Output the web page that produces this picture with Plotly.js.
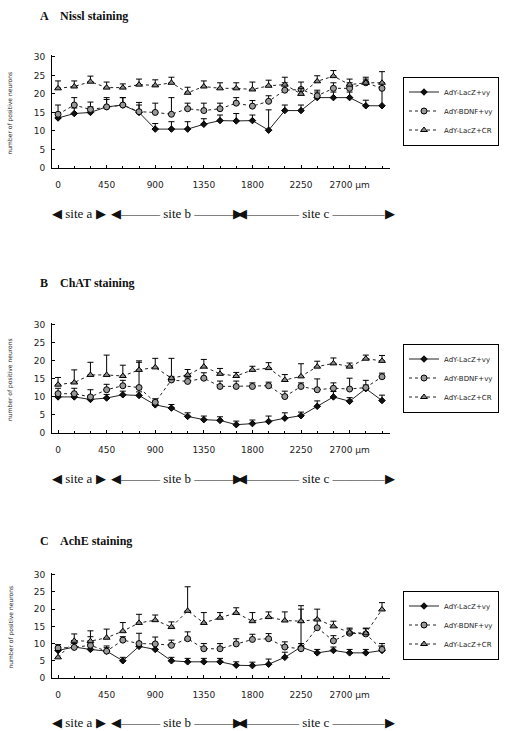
<!DOCTYPE html>
<html>
<head>
<meta charset="utf-8">
<script src="https://cdn.plot.ly/plotly-3.0.1.min.js"></script>
<style>html,body{margin:0;padding:0;background:#fff;}#chart{width:515px;height:731px;}</style>
</head>
<body>
<div id="chart"></div>
<script>
// distance along the lesion, µm
const distances = [0,150,300,450,600,750,900,1050,1200,1350,1500,1650,1800,1950,2100,2250,2400,2550,2700,2850,3000];
const xTickVals = [0,450,900,1350,1800,2250,2700];
const xTickText = ["0","450","900","1350","1800","2250","2700 µm"];
const yTickVals = [0,5,10,15,20,25,30];
const seriesNames = ["AdY-LacZ+vy","AdY-BDNF+vy","AdY-LacZ+CR"];
const panelTitles = ["A    Nissl staining","B    ChAT staining","C    AchE staining"];

// Panel A: Nissl staining
const nisslLacZvy   = [13.5,14.7,15,16.5,17,15,10.5,10.5,10.5,11.8,12.8,12.7,12.8,10.2,15.5,15.5,19,19,19,16.8,16.8];
const nisslBDNFvy   = [14.5,17,15.8,16.5,17,15.2,15,14.5,16,15.5,16,17.5,16.7,18,21,21.2,19.5,21.5,21.5,23,21.5];
const nisslLacZCR   = [21.5,22,23.3,21.7,21.7,22.5,22.3,23,20.3,22,21.5,21.5,21.2,22.2,22.5,20,23.4,24.8,22.5,23,23];
const nisslErrLacZvy = [1.5,1.5,1.5,2,2,2,1.5,2,2,1.5,1.5,2,1.5,5.5,1.5,1.5,1.5,1.5,1.5,1.5,5];
const nisslErrBDNFvy = [2.5,2,2,2.5,2,2.5,2.5,4.5,1.5,2,1.5,1.5,1.5,1.5,2,2,1.5,1.5,1.5,1.5,1.5];
const nisslErrLacZCR = [2,1.5,1.5,1.5,1,1.5,1.5,1.5,1.5,1.5,1.5,1.5,2,1.5,2,1.5,1.5,1.5,1.5,1,3];

// Panel B: ChAT staining
const chatLacZvy   = [10,10,9.3,9.7,10.6,10.4,7.8,6.9,4.6,3.7,3.5,2.3,2.6,3.2,4.1,4.8,7.4,10,8.8,12.3,9];
const chatBDNFvy   = [10.9,10.9,10,12,13.1,12.6,8.5,14.7,14.3,15.2,12.9,12.9,12.9,13.1,10.1,12.9,12,12.4,12.2,12.6,15.6];
const chatLacZCR   = [13.4,14,16.1,16.1,15.8,17.5,18.2,15.2,16.1,18.4,16.4,15.8,17.5,18,14.7,15.7,18.4,19.3,18.4,20.6,20];
const chatErrLacZvy = [1,1,1,1,1,1,1,1,1,1,1,1,1,1.5,1.5,1,1.5,1.5,1,1,1.5];
const chatErrBDNFvy = [1.5,1.5,2,1.5,1.5,7,1,1,1,1.5,1.5,1.5,1,1,1.5,1,3,1.5,3,2,1];
const chatErrLacZCR = [2,3.5,3.5,5.5,3,2.5,2.5,5.5,1.5,2,1.5,1,1,1.5,1.5,3.5,1.5,1.5,1,1,1.5];

// Panel C: AchE staining
const acheLacZvy   = [8,9,8.3,7.8,5,9.2,8.3,5,4.7,4.7,4.7,3.7,3.6,4,6,9,7.3,8,7.3,7.3,8];
const acheBDNFvy   = [8.7,8.9,9.5,7.8,11,10,9.9,9.5,11.4,8.5,8.5,9.9,11.2,11.4,9,8.5,14.6,10.8,13,12.8,8.3];
const acheLacZCR   = [6,10.8,10.7,11.7,13.6,16,16.8,14.8,19.5,16,17.5,18.9,16.5,17.7,16.7,16.5,17,15,13.2,13,19.9];
const acheErrLacZvy = [1,1,1,1,1,1,1.5,1,1,1,1,1,1,1.5,1.5,11,1,1,1,1,2];
const acheErrBDNFvy = [1,2,2.5,1.5,1,3,2,1.5,2,1.5,1.5,1.5,1.5,1.5,1.5,1.5,2.5,1.5,1.5,1.5,1];
const acheErrLacZCR = [2,2,3,2.5,2.5,2.5,1.5,1.5,7,3,1.5,1.5,2.5,1.5,2.5,4.5,3,1.5,1,1.5,2];

const panels = [
  {vals:[nisslLacZvy,nisslBDNFvy,nisslLacZCR], errs:[nisslErrLacZvy,nisslErrBDNFvy,nisslErrLacZCR]},
  {vals:[chatLacZvy,chatBDNFvy,chatLacZCR], errs:[chatErrLacZvy,chatErrBDNFvy,chatErrLacZCR]},
  {vals:[acheLacZvy,acheBDNFvy,acheLacZCR], errs:[acheErrLacZvy,acheErrBDNFvy,acheErrLacZCR]}
];

const H = 731, W = 515;
const py = v => 1 - v / H;
const px = v => v / W;
// pixel geometry of each panel: [top, bottom] of plot area, title y, site-label y, legend centre
const geo = [
  {top:55, bot:168, title:16, site:213, leg:111},
  {top:323, bot:433, title:283, site:478, leg:378},
  {top:573, bot:678, title:541, site:722, leg:625}
];
const markerStyles = [
  {symbol:'diamond', size:5, color:'#111', line:{color:'#000', width:1}},
  {symbol:'circle', size:6, color:'#999', line:{color:'#000', width:1}},
  {symbol:'triangle-up', size:6, color:'#888', line:{color:'#000', width:1}}
];
const lineStyles = [
  {color:'#222', width:1, dash:'solid'},
  {color:'#222', width:1, dash:'dot'},
  {color:'#222', width:1, dash:'dot'}
];

const traces = [];
const layout = {
  width: W, height: H,
  margin:{l:0,r:0,t:0,b:0},
  paper_bgcolor:'#fff', plot_bgcolor:'#fff',
  showlegend:true,
  annotations:[], shapes:[]
};
const tickFont = {family:'DejaVu Sans', size:9, color:'#222'};

panels.forEach((p, k) => {
  const n = k === 0 ? '' : String(k + 1);
  const g = geo[k];
  const legName = k === 0 ? 'legend' : 'legend' + (k + 1);
  for (let s = 0; s < 3; s++) {
    traces.push({
      type:'scatter', mode:'lines+markers',
      x: distances, y: p.vals[s],
      xaxis:'x' + n, yaxis:'y' + n,
      name: seriesNames[s], legend: legName,
      line: lineStyles[s], marker: markerStyles[s],
      error_y:{type:'data', symmetric:false, array:p.errs[s], arrayminus:p.vals[s].map(()=>0), color:'#000', thickness:1, width:3}
    });
  }
  layout['xaxis' + n] = {
    domain:[px(52), px(390)], anchor:'y' + n, range:[-56, 3074],
    tickvals:xTickVals, ticktext:xTickText, ticks:'inside', ticklen:3, tickcolor:'#000',
    minor:{dtick:150, tick0:0, ticks:'inside', ticklen:2, tickcolor:'#000'},
    showline:true, linecolor:'#000', linewidth:1, showgrid:false, zeroline:false,
    tickfont:tickFont, ticklabelstandoff:8
  };
  layout['yaxis' + n] = {
    domain:[py(g.bot), py(g.top)], anchor:'x' + n, range:[0, 30.5],
    tickvals:yTickVals, ticks:'inside', ticklen:3, tickcolor:'#000',
    showline:true, linecolor:'#000', linewidth:1, showgrid:false, zeroline:false,
    tickfont:tickFont, ticklabelstandoff:4
  };
  layout[legName] = {
    x: px(403), y: py(g.leg), xanchor:'left', yanchor:'middle',
    bgcolor:'#fff', bordercolor:'#000', borderwidth:1,
    font:{family:'DejaVu Sans', size:7, color:'#222'},
    tracegroupgap:0, itemwidth:30
  };
  layout.annotations.push({
    xref:'paper', yref:'paper', x:px(38), y:py(g.title), xanchor:'left', yanchor:'middle',
    text:'<b>' + panelTitles[k] + '</b>', showarrow:false,
    font:{family:'Liberation Serif', size:12, color:'#111'}
  });
  layout.annotations.push({
    xref:'paper', yref:'paper', x:px(10), y:py((g.top + g.bot) / 2 + 2), xanchor:'center', yanchor:'middle',
    text:'number of positive neurons', textangle:-90, showarrow:false,
    font:{family:'DejaVu Sans', size:6, color:'#222'}
  });
  const siteSpec = [
    {text:'◀ site a ▶', x0:48, x1:110},
    {text:'◀——— site b ———▶', x0:110, x1:243},
    {text:'◀———— site c ————▶', x0:243, x1:388}
  ];
  siteSpec.forEach(sp => {
    layout.annotations.push({
      xref:'paper', yref:'paper', x:px((sp.x0 + sp.x1) / 2), y:py(g.site), xanchor:'center', yanchor:'middle',
      text:sp.text, showarrow:false,
      font:{family:'Liberation Serif', size:13, color:'#111'}
    });
  });
});

Plotly.newPlot('chart', traces, layout, {staticPlot:true, displayModeBar:false});
</script>
</body>
</html>
